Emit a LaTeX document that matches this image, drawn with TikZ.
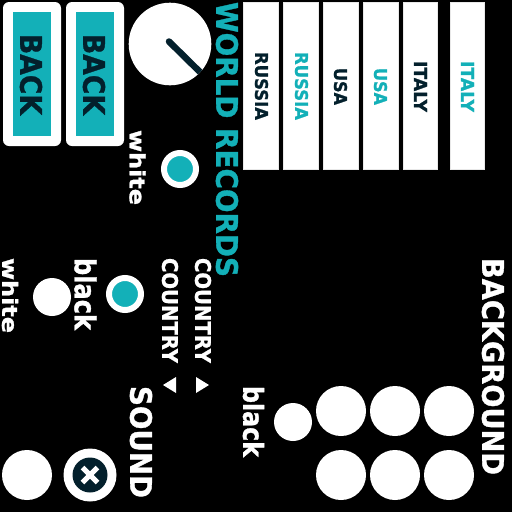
\documentclass[tikz,border=0pt]{standalone}
\usepackage{fontspec}
\setmainfont{DejaVu Sans}[BoldFeatures={FakeBold=1.2}]
\usepackage{graphicx}
\definecolor{tealc}{HTML}{13B0B8}
\definecolor{navyc}{HTML}{03202C}
\definecolor{edgec}{HTML}{E8E8E8}
\tikzset{
  rottext/.style={rotate=-90,inner sep=0pt,outer sep=0pt,anchor=center},
  whitedot/.style={circle,fill=white,inner sep=0pt,outer sep=0pt},
  radiodot/.style={circle,fill=tealc,draw=white,line width=6pt,inner sep=0pt,outer sep=0pt,minimum size=32pt},
  cardbox/.style={fill=white,draw=edgec,line width=1pt},
}
% position (rotated), length along the text, thickness across it, colour, text, name
\newcommand{\fittext}[6]{\node[rottext,text=#4] (#6) at #1 {\resizebox{#2pt}{#3pt}{\bfseries #5}};}
\begin{document}
\begin{tikzpicture}[x=1pt,y=-1pt]
\useasboundingbox (0,0) rectangle (512,512);
\fill[black] (0,0) rectangle (512,512);
% back buttons
\fill[white,rounded corners=6pt] (3,2) rectangle (61,146);
\fill[white,rounded corners=6pt] (66,2) rectangle (124,146);
\fill[tealc] (13,12) rectangle (51,136);
\fill[tealc] (76,12) rectangle (114,136);
\fittext{(31,74.5)}{81}{22}{navyc}{BACK}{backtexta}
\fittext{(94,74.5)}{81}{22}{navyc}{BACK}{backtextb}
% dial
\node[whitedot,minimum size=82.6pt] (dial) at (170,44) {};
\begin{scope}
\clip (170,44) circle (41.3);
\coordinate (dialhub) at (169,41.5);
\coordinate (dialtip) at (202,74);
\draw[navyc,line width=6.5pt,line cap=round] (dialhub) -- (dialtip);
\end{scope}
% title
\fittext{(227,139.5)}{275}{22}{tealc}{WORLD RECORDS}{title}
% radios, upper
\node[radiodot] (radiowhite) at (180,169) {};
\fittext{(137.5,167.5)}{75}{16}{white}{white}{labelwhitea}
% cards
\foreach \xa/\xb in {243.5/278.5,283.5/318.5,323.5/358.5,363.5/398.5,403.5/437.5,450.5/484.5}{
  \path[cardbox] (\xa,2.5) rectangle (\xb,169.5);
}
\fittext{(261.5,86)}{68}{13}{navyc}{RUSSIA}{russiaa}
\fittext{(301.5,86)}{68}{13}{tealc}{RUSSIA}{russiab}
\fittext{(340.5,86.5)}{37}{13}{navyc}{USA}{usaa}
\fittext{(380.5,86.5)}{37}{13}{tealc}{USA}{usab}
\fittext{(420.5,86.5)}{51}{13}{navyc}{ITALY}{italya}
\fittext{(467.5,86.5)}{51}{13}{tealc}{ITALY}{italyb}
% country selectors
\fittext{(203,310.5)}{105}{16}{white}{COUNTRY}{countrya}
\fittext{(170,310.5)}{105}{16}{white}{COUNTRY}{countryb}
\fill[white] (196,377) -- (209,385) -- (196,393) -- cycle;
\fill[white] (176,377) -- (163,385) -- (176,393) -- cycle;
% radios, lower
\node[radiodot] (radioblack) at (125,294) {};
\node[whitedot,minimum size=38pt] (dotwhite) at (52,297) {};
\fittext{(85.5,294)}{72}{22}{white}{black}{labelblacka}
\fittext{(10,295.5)}{75}{16}{white}{white}{labelwhiteb}
% sound
\fittext{(141,442)}{112}{22}{white}{SOUND}{sound}
\node[whitedot,minimum size=50pt] (soundoff) at (27,475) {};
\node[whitedot,minimum size=53pt] (soundon) at (90,475) {};
\node[circle,fill=navyc,inner sep=0pt,minimum size=35pt] (soundicon) at (90,475) {};
\draw[white,line width=5pt] (82.5,467.5) -- (97.5,482.5);
\draw[white,line width=5pt] (97.5,467.5) -- (82.5,482.5);
% background
\fittext{(493,366.5)}{217}{22}{white}{BACKGROUND}{background}
\foreach \nm/\cx/\cy in {ba/341/411,bb/395/411,bc/449/411,bd/341/475,be/395/475,bf/449/475}{
  \node[whitedot,minimum size=50pt] (\nm) at (\cx,\cy) {};
}
\node[whitedot,minimum size=38pt] (dotsmall) at (293,422) {};
\fittext{(253.5,421.5)}{71}{21}{white}{black}{labelblackb}
\end{tikzpicture}
\end{document}
